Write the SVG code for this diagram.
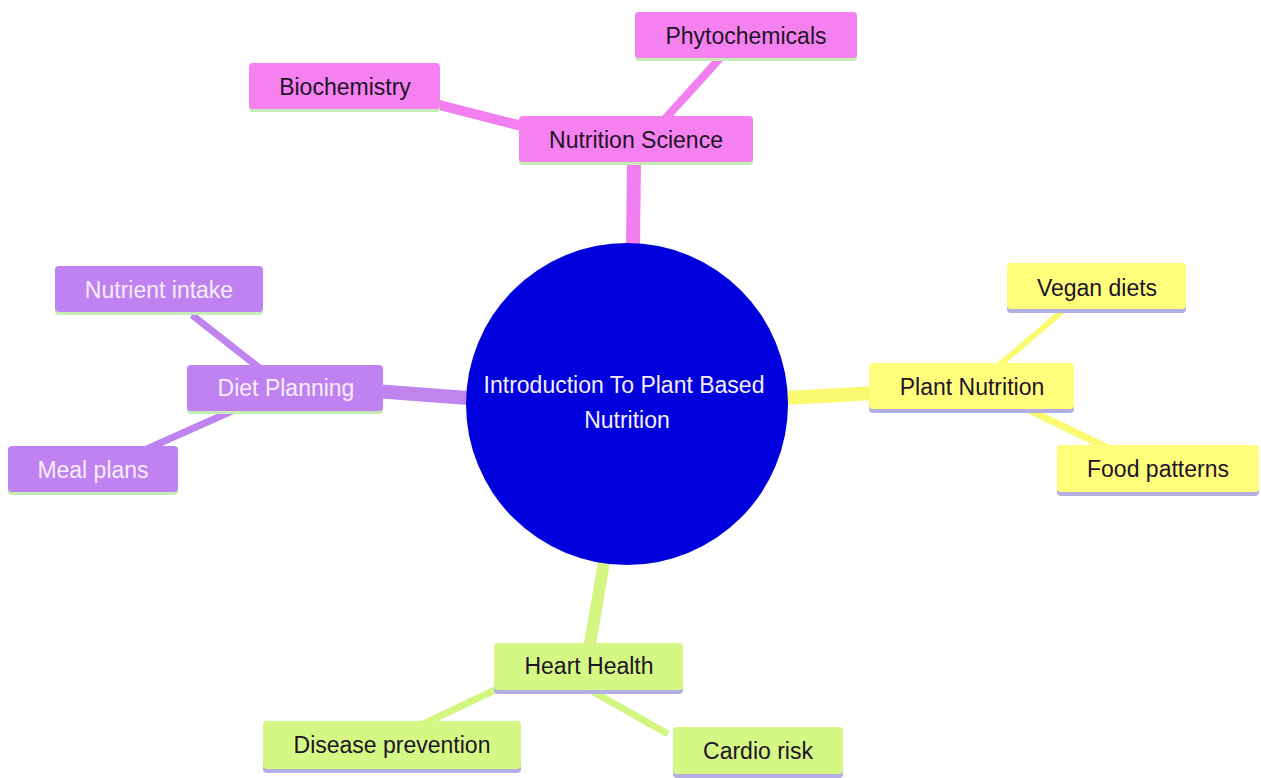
<svg xmlns="http://www.w3.org/2000/svg" width="1261" height="778" viewBox="0 0 1261 778">
<style>
text{font-family:"Liberation Sans",Arial,sans-serif;font-size:23px;text-anchor:middle;dominant-baseline:central}
.pk{fill:#f580f0}.pu{fill:#c082f0}.ye{fill:#ffff7c}.gr{fill:#d5f784}
.bg{fill:#c4ecb4}.bl{fill:#b4aee4}
.dk{fill:#1e1428}.lt{fill:#f6eefc}
.e{fill:none;stroke-linecap:butt}
</style>
<rect width="1261" height="778" fill="#ffffff"/>
<g id="connectors">
<path class="e" d="M633 246 L634 160" stroke="#f27ff0" stroke-width="14"/>
<path class="e" d="M545 132 L420 100" stroke="#f27ff0" stroke-width="10"/>
<path class="e" d="M655 130 L722 56" stroke="#f27ff0" stroke-width="8"/>
<path class="e" d="M468 398 L375 391" stroke="#c084ef" stroke-width="14"/>
<path class="e" d="M262 370 L192 315" stroke="#c084ef" stroke-width="7"/>
<path class="e" d="M232 411 L140 452" stroke="#c084ef" stroke-width="7"/>
<path class="e" d="M786 398 L875 393" stroke="#fafa70" stroke-width="14"/>
<path class="e" d="M996 368 L1066 308" stroke="#fafa70" stroke-width="6"/>
<path class="e" d="M1025 408 L1112 450" stroke="#fafa70" stroke-width="7"/>
<path class="e" d="M604 562 L589 650" stroke="#d3f582" stroke-width="12"/>
<path class="e" d="M495 690 L415 728" stroke="#d3f582" stroke-width="7"/>
<path class="e" d="M590 690 L668 734" stroke="#d3f582" stroke-width="7"/>
</g>
<g id="root">
<circle cx="627" cy="404" r="161" fill="#0000dc"/>
<text x="624" y="385" class="lt">Introduction To Plant Based</text>
<text x="627" y="420" class="lt">Nutrition</text>
</g>
<g id="nutrition-science">
<rect x="519" y="119" width="234" height="46" rx="4" class="bg"/>
<rect x="519" y="116" width="234" height="46" rx="4" class="pk"/>
<text x="636" y="140" class="dk">Nutrition Science</text>
</g>
<g id="biochemistry">
<rect x="249" y="66" width="191" height="46" rx="4" class="bg"/>
<rect x="249" y="63" width="191" height="46" rx="4" class="pk"/>
<text x="345" y="87" class="dk">Biochemistry</text>
</g>
<g id="phytochemicals">
<rect x="635" y="15" width="222" height="46" rx="4" class="bg"/>
<rect x="635" y="12" width="222" height="46" rx="4" class="pk"/>
<text x="746" y="36" class="dk">Phytochemicals</text>
</g>
<g id="diet-planning">
<rect x="187" y="368" width="196" height="46" rx="4" class="bg"/>
<rect x="187" y="365" width="196" height="46" rx="4" class="pu"/>
<text x="286" y="388" class="lt">Diet Planning</text>
</g>
<g id="nutrient-intake">
<rect x="55" y="269" width="208" height="46" rx="4" class="bg"/>
<rect x="55" y="266" width="208" height="46" rx="4" class="pu"/>
<text x="159" y="290" class="lt">Nutrient intake</text>
</g>
<g id="meal-plans">
<rect x="8" y="449" width="170" height="46" rx="4" class="bg"/>
<rect x="8" y="446" width="170" height="46" rx="4" class="pu"/>
<text x="93" y="470" class="lt">Meal plans</text>
</g>
<g id="plant-nutrition">
<rect x="869" y="366" width="205" height="47" rx="4" class="bl"/>
<rect x="869" y="363" width="205" height="46" rx="4" class="ye"/>
<text x="972" y="387" class="dk">Plant Nutrition</text>
</g>
<g id="vegan-diets">
<rect x="1007" y="266" width="179" height="47" rx="4" class="bl"/>
<rect x="1007" y="263" width="179" height="46" rx="4" class="ye"/>
<text x="1097" y="288" class="dk">Vegan diets</text>
</g>
<g id="food-patterns">
<rect x="1057" y="448" width="202" height="48" rx="4" class="bl"/>
<rect x="1057" y="445" width="202" height="47" rx="4" class="ye"/>
<text x="1158" y="469" class="dk">Food patterns</text>
</g>
<g id="heart-health">
<rect x="494" y="646" width="189" height="48" rx="4" class="bl"/>
<rect x="494" y="643" width="189" height="47" rx="4" class="gr"/>
<text x="589" y="666" class="dk">Heart Health</text>
</g>
<g id="disease-prevention">
<rect x="263" y="724" width="258" height="49" rx="4" class="bl"/>
<rect x="263" y="721" width="258" height="48" rx="4" class="gr"/>
<text x="392" y="745" class="dk">Disease prevention</text>
</g>
<g id="cardio-risk">
<rect x="673" y="730" width="170" height="48" rx="4" class="bl"/>
<rect x="673" y="727" width="170" height="47" rx="4" class="gr"/>
<text x="758" y="751" class="dk">Cardio risk</text>
</g>
</svg>
